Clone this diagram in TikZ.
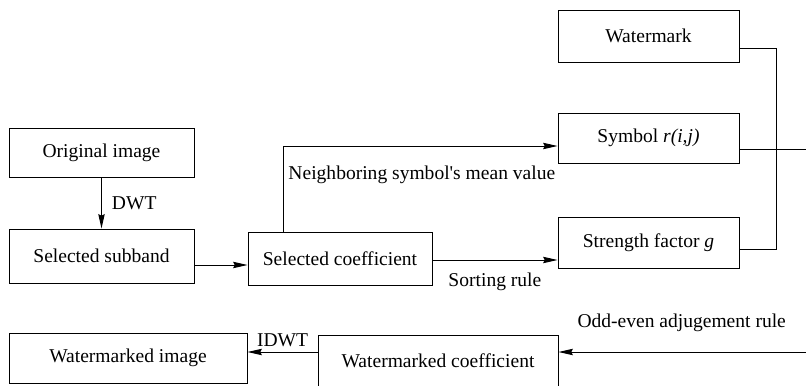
\documentclass[tikz,border=0pt]{standalone}
\usepackage{fontspec}
\setmainfont{Liberation Serif}
\newfontfamily\blockfont{Liberation Serif}
\usetikzlibrary{arrows.meta, positioning}

\begin{document}
\begin{tikzpicture}[>={Stealth[length=3.6mm, width=1.6mm, inset=0.4mm]}, line width=0.7pt,
    box/.style={draw, inner sep=0pt, font=\blockfont\fontsize{13.9}{16}\selectfont},
    lbl/.style={inner sep=0pt, font=\blockfont\fontsize{13.9}{16}\selectfont}]
  \useasboundingbox (0,0) rectangle (20.15,-9.65);

  % blocks
  \node[box, minimum width=4.625cm, minimum height=1.225cm] (orig) at (2.5375,-3.8125) {Original image};
  \node[box, minimum width=4.625cm, minimum height=1.35cm] (sub) at (2.5375,-6.4) {Selected subband};
  \node[box, minimum width=4.6cm, minimum height=1.325cm] (coef) at (8.5,-6.4625) {Selected coefficient};
  \node[box, minimum width=4.525cm, minimum height=1.3cm] (wm) at (16.2125,-0.9) {Watermark};
  \node[box, minimum width=4.525cm, minimum height=1.25cm] (sym) at (16.2125,-3.45) {Symbol \textit{r(i,j)}};
  \node[box, minimum width=4.525cm, minimum height=1.275cm] (str) at (16.2125,-6.0625) {Strength factor \textit{g}};
  \node[box, minimum width=5.95cm, minimum height=1.25cm] (wimg) at (3.2,-8.95) {Watermarked image};
  \node[box, minimum width=6cm, minimum height=1.275cm] (wcoef) at (10.95,-9.0125) {Watermarked coefficient};

  \coordinate (bus) at (19.4,-3.5);
  \coordinate (symout) at (20.15,-3.725);
  \coordinate (oddin) at (20.15,-8.8);

  % connectors
  \draw[->] (orig) -- (sub) node[lbl, midway, right=0.25cm]{DWT};
  \draw[->] ([yshift=-0.225cm]sub.east) coordinate (s1) -- (s1 -| coef.west);
  \draw[->] ([xshift=0.9cm]coef.north west) |- ([yshift=-0.2cm]sym.west);
  \draw[->] ([yshift=-0.0375cm]coef.east) coordinate (c1) -- (c1 -| str.west);
  \draw ([yshift=-0.3cm]wm.east) -| (bus) |- ([yshift=-0.1625cm]str.east);
  \draw ([yshift=-0.275cm]sym.east) coordinate (s2) -- (s2 -| symout);
  \draw[->] (oddin) -- (oddin -| wcoef.east);
  \draw[->] (oddin -| wcoef.west) coordinate (w1) -- (w1 -| wimg.east) node[lbl, midway, above=0.12cm]{IDWT};

  % labels
  \node[lbl, anchor=west] (nbr) at (7.2,-4.375) {Neighboring symbol's mean value};
  \node[lbl, anchor=west] (sort) at (11.2,-7.05) {Sorting rule};
  \node[lbl, anchor=west] (odd) at (14.425,-8.075) {Odd-even adjugement rule};
\end{tikzpicture}
\end{document}
